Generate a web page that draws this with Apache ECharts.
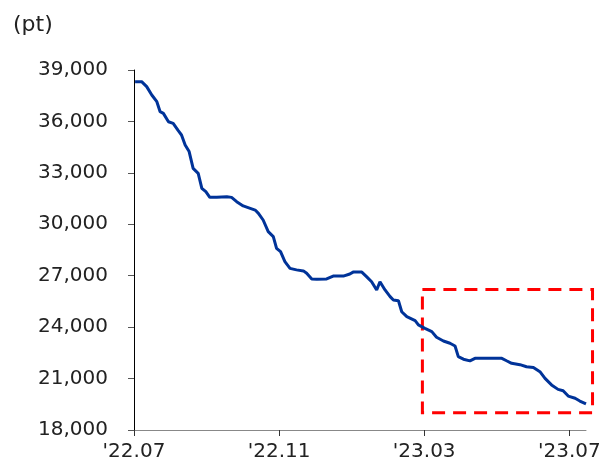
<!DOCTYPE html>
<html>
<head>
<meta charset="utf-8">
<script src="https://cdn.jsdelivr.net/npm/echarts@6/dist/echarts.min.js"></script>
<style>html,body{margin:0;padding:0;background:#fff}#c{width:609px;height:466px}</style>
</head>
<body>
<div id="c"></div>
<script>
// x positions: months since 2022-07 (0 = '22.07)
const months = [0.03,0.21,0.35,0.49,0.63,0.72,0.81,0.95,1.08,1.22,1.31,1.41,1.52,1.63,1.77,1.87,1.98,2.09,2.28,2.56,2.69,2.83,3.01,3.34,3.43,3.56,3.70,3.84,3.93,4.04,4.16,4.30,4.48,4.67,4.76,4.90,5.04,5.31,5.49,5.77,5.95,6.04,6.28,6.41,6.55,6.69,6.78,6.92,7.06,7.15,7.29,7.38,7.52,7.75,7.84,8.02,8.21,8.34,8.53,8.71,8.85,8.94,9.08,9.26,9.40,9.72,10.14,10.27,10.41,10.64,10.82,11.01,11.19,11.33,11.51,11.69,11.83,11.97,12.16,12.29,12.46];
const values = [38320,38320,38030,37540,37150,36570,36470,35980,35890,35460,35210,34630,34240,33260,32970,32100,31900,31570,31570,31610,31570,31320,31070,30830,30640,30250,29570,29280,28600,28400,27820,27430,27340,27280,27140,26810,26790,26810,26980,26980,27100,27210,27210,26950,26650,26170,26650,26170,25780,25580,25540,24900,24610,24380,24130,23930,23740,23410,23190,23060,22900,22280,22130,22030,22180,22180,22180,22040,21890,21810,21690,21650,21400,21010,20630,20370,20290,19980,19850,19690,19520];
const tickMonths = [0,4,8,12];
const tickLabels = ["'22.07","'22.11","'23.03","'23.07"];
const boxX = [7.95, 12.64];
const boxY = [19000, 26200];
const yTicks = [18000,21000,24000,27000,30000,33000,36000,39000];

const chart = echarts.init(document.getElementById('c'));
const font = 'DejaVu Sans';
chart.setOption({
  animation: false,
  title: { text: '(pt)', left: 8, top: 9, textStyle: { fontFamily: font, fontSize: 22, fontWeight: 'normal', color: '#222' } },
  grid: { left: 134, right: 23, top: 70, bottom: 36 },
  xAxis: {
    type: 'value', min: 0, max: 12.46,
    axisLine: { show: true, lineStyle: { color: '#888', width: 1 } },
    axisTick: { show: true, customValues: tickMonths, length: 6, lineStyle: { color: '#333' } },
    axisLabel: { customValues: tickMonths, margin: 12, fontFamily: font, fontSize: 20, color: '#222',
      formatter: v => { const i = tickMonths.indexOf(Math.round(v)); return i >= 0 ? tickLabels[i] : ''; } },
    splitLine: { show: false }
  },
  yAxis: {
    type: 'value', min: yTicks[0], max: yTicks[yTicks.length-1], interval: 3000,
    axisLine: { show: true, lineStyle: { color: '#000', width: 1 } },
    axisTick: { show: true, length: 6, lineStyle: { color: '#555' } },
    axisLabel: { margin: 26, fontFamily: font, fontSize: 20, color: '#222',
      formatter: v => v.toLocaleString('en-US') },
    splitLine: { show: false }
  },
  series: [{
    type: 'line', clip: false, symbol: 'none',
    data: months.map((m, i) => [m, values[i]]),
    lineStyle: { color: '#003399', width: 3 }
  }]
});
// dashed highlight box, positioned through the chart's own scales
const p1 = chart.convertToPixel({ gridIndex: 0 }, [boxX[0], boxY[1]]);
const p2 = chart.convertToPixel({ gridIndex: 0 }, [boxX[1], boxY[0]]);
chart.setOption({
  graphic: [{
    type: 'rect', silent: true,
    shape: { x: p1[0], y: p1[1], width: p2[0] - p1[0], height: p2[1] - p1[1] },
    style: { fill: 'none', stroke: '#ff0000', lineWidth: 3, lineDash: [13, 8] }
  }]
});
</script>
</body>
</html>
